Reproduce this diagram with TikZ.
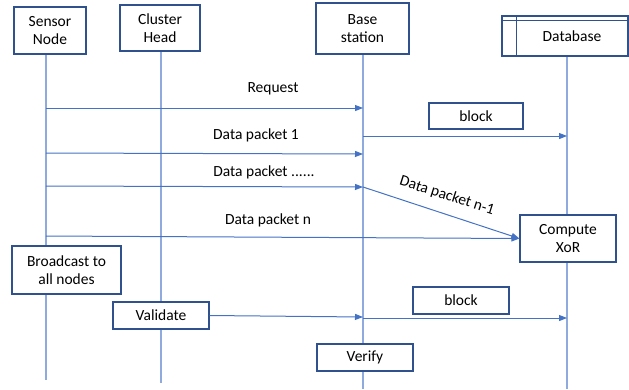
\documentclass[tikz,border=0pt]{standalone}
\usepackage{fontspec}
\setmainfont{Carlito}
\usetikzlibrary{arrows.meta,positioning}
\definecolor{boxblue}{HTML}{2F528F}
\definecolor{lineblue}{HTML}{4472C4}
\definecolor{lifeblue}{HTML}{8FAADC}
\tikzset{
  actor/.style args={#1,#2}{
  draw=boxblue,
  fill=white,
  line width=1.2pt,
  align=center,
  inner sep=0pt,
  minimum width=#1pt,
  minimum height=#2pt,
  },
  life/.style={draw=lifeblue,line width=1.1pt},
  msg/.style={draw=lineblue,line width=1pt,-{Triangle[length=8pt,width=6pt]}},
  msgtext/.style={inner sep=1pt},
}

\begin{document}
\begin{tikzpicture}[x=1pt,y=-1pt,font=\fontsize{15.5}{18.5}\selectfont]
\useasboundingbox (0,0) rectangle (629,389);

% lifelines first, boxes cover them
\coordinate (sn-top) at (46,54);   \coordinate (sn-end) at (46,380);
\coordinate (ch-top) at (161,50);  \coordinate (ch-end) at (161,383);
\coordinate (bs-top) at (363,54);  \coordinate (bs-end) at (363,389);
\coordinate (db-top) at (567,56);  \coordinate (db-end) at (567,389);
\draw [life] (sn-top) -- (sn-end);
\draw [life] (ch-top) -- (ch-end);
\draw [life] (bs-top) -- (bs-end);
\draw [life] (db-top) -- (db-end);

\node [actor={72,47}] (sn) at (50,30.5) {Sensor\\Node};
\node [actor={80,46}] (ch) at (160,28) {Cluster\\Head};
\node [actor={93,51}] (bs) at (362.5,28.5) {Base\\station};
\node [actor={126,40}] (db) at (565,36) {\raisebox{-4pt}{\hspace{14pt}Database}};
\draw [boxblue,line width=1.2pt] (db.north west) ++(0,5) -- ++(126,0);
\draw [boxblue,line width=1.2pt] (db.north west) ++(15,0) -- ++(0,40);

\node [actor={94,26}] (blk1) at (476,116) {block};
\node [actor={96,47}] (cx) at (568,238.5) {Compute\\XoR};
\node [actor={109,48}] (bc) at (66.5,270) {Broadcast to\\all nodes};
\node [actor={96,27}] (val) at (161,315.5) {Validate};
\node [actor={96,27}] (blk2) at (461,300.5) {block};
\node [actor={96,27}] (ver) at (365,357.5) {Verify};

% message points on the lifelines
\coordinate (req-s) at (46,108);  \coordinate (req-b) at (363,108);
\coordinate (bk1-b) at (363,136); \coordinate (bk1-d) at (567,136);
\coordinate (dp1-s) at (46,153);  \coordinate (dp1-b) at (363,154);
\coordinate (dpx-s) at (46,186);  \coordinate (dpx-b) at (363,187);
\coordinate (dpn-s) at (46,236);
\coordinate (val-b) at (363,317);
\coordinate (bk2-b) at (363,318); \coordinate (bk2-d) at (567,318);

\draw [msg] (req-s) -- (req-b);
\draw [msg] (bk1-b) -- (bk1-d);
\draw [msg] (dp1-s) -- (dp1-b);
\draw [msg] (dpx-s) -- (dpx-b);
\draw [msg] (dpx-b) -- (cx.west);
\draw [msg] (dpn-s) -- (cx.west);
\draw [msg] (val.east) -- (val-b);
\draw [msg] (bk2-b) -- (bk2-d);

\node [msgtext] (lreq) at (273,89) {Request};
\node [msgtext] (ldp1) at (256,135) {Data packet 1};
\node [msgtext] (ldpx) at (264,172) {Data packet ......};
\node [msgtext,rotate=-17.7] (ldpm) at (447,196) {Data packet n-1};
\node [msgtext] (ldpn) at (268,220) {Data packet n};
\end{tikzpicture}
\end{document}
